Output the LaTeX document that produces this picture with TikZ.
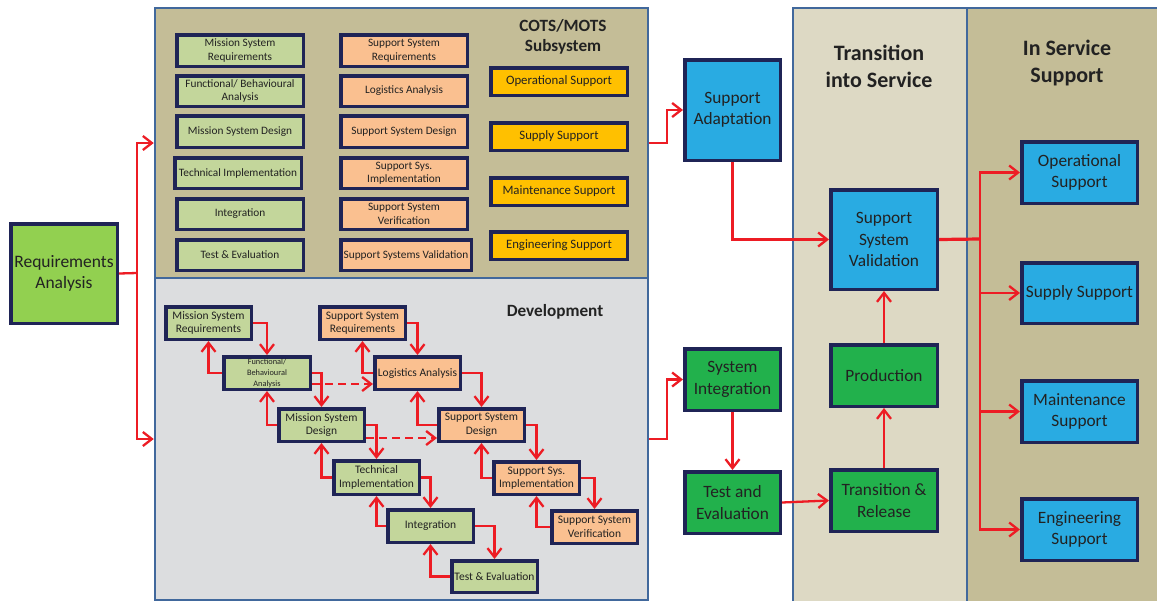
\documentclass[tikz,border=0pt]{standalone}
\usepackage{fontspec}
\setmainfont{Carlito}
\usetikzlibrary{arrows.meta,calc}
\definecolor{khaki}{HTML}{C4BD97}
\definecolor{devgray}{HTML}{DCDDDF}
\definecolor{transbg}{HTML}{DDD9C4}
\definecolor{panelline}{HTML}{41689C}
\definecolor{navy}{HTML}{1F2456}
\definecolor{lgreen}{HTML}{C3D69B}
\definecolor{lorange}{HTML}{FAC090}
\definecolor{gold}{HTML}{FFC000}
\definecolor{skyblue}{HTML}{29ABE2}
\definecolor{dgreen}{HTML}{22B14C}
\definecolor{ragreen}{HTML}{92D050}
\definecolor{redline}{HTML}{ED1C24}
\definecolor{txt}{HTML}{222222}
\newcommand\bx[7]{\node[#6, minimum width={(#4-#2-3.5)*1pt}, minimum height={(#5-#3-3.5)*1pt}] (#1) at ({(#2+#4)/2},{(#3+#5)/2}) {#7};}
\newcommand\pnl[6]{\node[panel, fill=#6, minimum width={(#4-#2)*1pt}, minimum height={(#5-#3)*1pt}] (#1) at ({(#2+#4)/2},{(#3+#5)/2}) {};}
\tikzset{
  panel/.style={draw=panelline, line width=2.5pt, inner sep=0pt},
  boxbase/.style={draw=navy, line width=3.5pt, inner sep=0pt, align=center, text=txt},
  gbox/.style={boxbase, fill=lgreen, font=\fontsize{11.3}{13.5}\selectfont},
  obox/.style={boxbase, fill=lorange, font=\fontsize{11.3}{13.5}\selectfont},
  wgbox/.style={boxbase, fill=lgreen, font=\fontsize{11.5}{13.5}\selectfont},
  wobox/.style={boxbase, fill=lorange, font=\fontsize{11.5}{13.5}\selectfont},
  ybox/.style={boxbase, fill=gold, font=\fontsize{12.8}{14}\selectfont},
  bbox/.style={boxbase, fill=skyblue, font=\fontsize{17.3}{21.5}\selectfont},
  dbox/.style={boxbase, fill=dgreen, font=\fontsize{17.3}{21.5}\selectfont},
  rbox/.style={boxbase, fill=ragreen, font=\fontsize{17.5}{20.5}\selectfont},
  ttl/.style={font=\bfseries\fontsize{17.2}{20}\selectfont, text=txt, align=center, inner sep=0pt},
  bigttl/.style={font=\bfseries\fontsize{22}{27}\selectfont, text=txt, align=center, inner sep=0pt},
  arr/.style={draw=redline, line width=2.3pt, -{Straight Barb[length=9pt,width=14pt,line width=2.3pt]}},
  ln/.style={draw=redline, line width=2.3pt},
}
\begin{document}
\begin{tikzpicture}[x=1pt,y=-1pt]
\useasboundingbox (0,0) rectangle (1157,600);
\fill[white] (0,0) rectangle (1157,600);
% panels
\pnl{cots}{155}{8}{648}{278}{khaki}
\pnl{dev}{155}{278}{648}{600}{devgray}
\pnl{tis}{793}{8}{967}{602}{transbg}
\pnl{iss}{967}{8}{1160}{602}{khaki}
% titles
\node[ttl] (cotsttl) at (563,37) {COTS/MOTS\\Subsystem};
\node[ttl] (devttl) at (555,312) {Development};
\node[bigttl] (tisttl) at (879,66) {Transition\\into Service};
\node[bigttl] (issttl) at (1067,63) {In Service\\Support};
% requirements analysis
\bx{ra}{9}{222}{119}{325}{rbox}{Requirements\\Analysis}
% COTS/MOTS boxes
\bx{c1}{175}{33}{305}{68}{gbox}{Mission System\\Requirements}
\bx{c2}{175}{74}{305}{108}{gbox}{Functional/ Behavioural\\Analysis}
\bx{c3}{175}{114}{305}{149}{gbox}{Mission System Design}
\bx{c4}{173}{156}{303}{190}{gbox}{Technical Implementation}
\bx{c5}{175}{197}{305}{231}{gbox}{Integration}
\bx{c6}{175}{238}{305}{272}{gbox}{Test \& Evaluation}
\bx{o1}{339}{33}{469}{68}{obox}{Support System\\Requirements}
\bx{o2}{339}{74}{469}{108}{obox}{Logistics Analysis}
\bx{o3}{339}{114}{469}{149}{obox}{Support System Design}
\bx{o4}{339}{156}{469}{190}{obox}{Support Sys.\\Implementation}
\bx{o5}{339}{197}{469}{231}{obox}{Support System\\Verification}
\bx{o6}{339}{238}{473}{272}{obox}{Support Systems Validation}
\bx{y1}{489}{66}{629}{97}{ybox}{Operational Support}
\bx{y2}{489}{121}{629}{152}{ybox}{Supply Support}
\bx{y3}{489}{176}{629}{207}{ybox}{Maintenance Support}
\bx{y4}{489}{230}{629}{261}{ybox}{Engineering Support}
% Development waterfall
\bx{msr}{164}{305}{253}{341}{wgbox}{Mission System\\Requirements}
\bx{fba}{222}{355}{312}{391}{wgbox, font=\fontsize{8.3}{11}\selectfont}{Functional/\\Behavioural\\Analysis}
\bx{msd}{277}{407}{366}{443}{wgbox}{Mission System\\Design}
\bx{ti}{332}{459}{421}{496}{wgbox}{Technical\\Implementation}
\bx{int}{386}{508}{475}{544}{wgbox}{Integration}
\bx{te}{450}{559}{539}{594}{wgbox}{Test \& Evaluation}
\bx{ssr}{318}{305}{407}{341}{wobox}{Support System\\Requirements}
\bx{la}{373}{355}{462}{391}{wobox}{Logistics Analysis}
\bx{ssd}{437}{407}{526}{443}{wobox}{Support System\\Design}
\bx{ssi}{492}{460}{581}{496}{wobox}{Support Sys.\\Implementation}
\bx{ssv}{550}{509}{639}{545}{wobox}{Support System\\Verification}
% right column
\bx{sa}{683}{58}{782}{162}{bbox}{Support\\Adaptation}
\bx{si}{683}{347}{782}{412}{dbox}{System\\Integration}
\bx{tae}{683}{470}{782}{535}{dbox}{Test and\\Evaluation}
\bx{sva}{829}{188}{939}{291}{bbox}{Support\\System\\Validation}
\bx{prod}{829}{343}{939}{408}{dbox}{Production}
\bx{tr}{829}{468}{939}{533}{dbox}{Transition \&\\Release}
\bx{ops}{1020}{140}{1139}{205}{bbox}{Operational\\Support}
\bx{sup}{1020}{261}{1139}{325}{bbox}{Supply Support}
\bx{mnt}{1020}{379}{1139}{444}{bbox}{Maintenance\\Support}
\bx{eng}{1020}{497}{1139}{562}{bbox}{Engineering\\Support}
% connectors: requirements analysis to panels
\coordinate (rsplit) at (137,273);
\draw[ln] (ra.east) -- (rsplit);
\draw[arr] (rsplit) |- (cots.west);
\draw[arr] (rsplit) |- (dev.west);
% waterfall forward
\foreach \a/\b in {msr/fba, fba/msd, msd/ti, ti/int, int/te, ssr/la, la/ssd, ssd/ssi, ssi/ssv}
  \draw[arr] (\a.east) -| (\b.north);
% waterfall backward
\foreach \a/\b in {msr/fba, fba/msd, msd/ti, ti/int, int/te, ssr/la, la/ssd, ssd/ssi, ssi/ssv}
  \draw[arr] (\b.west) -| (\a.south);
% dashed links
\draw[arr, dash pattern=on 8pt off 5pt] ([yshift=-11pt]fba.east) -- ([yshift=-11pt]la.west);
\draw[arr, dash pattern=on 8pt off 5pt] ([yshift=-13pt]msd.east) -- ([yshift=-13pt]ssd.west);
% panels to right column
\draw[arr] (cots.east) -- ++(18,0) |- (sa.west);
\draw[arr] (dev.east) -- ++(18,0) |- (si.west);
\draw[arr] (sa.south) |- (sva.west);
\draw[arr] (si.south) -- (tae.north);
\draw[arr] (tae.east) -- (tr.west);
\draw[arr] (tr.north) -- (prod.south);
\draw[arr] (prod.north) -- (sva.south);
% in service support distribution
\coordinate (isplit) at (980,239);
\draw[ln, line width=3.2pt] (sva.east) -- (isplit);
\draw[arr] (isplit) |- (ops.west);
\draw[arr] (isplit) |- (sup.west);
\draw[arr] (isplit) |- (mnt.west);
\draw[arr] (isplit) |- (eng.west);
\end{tikzpicture}
\end{document}
